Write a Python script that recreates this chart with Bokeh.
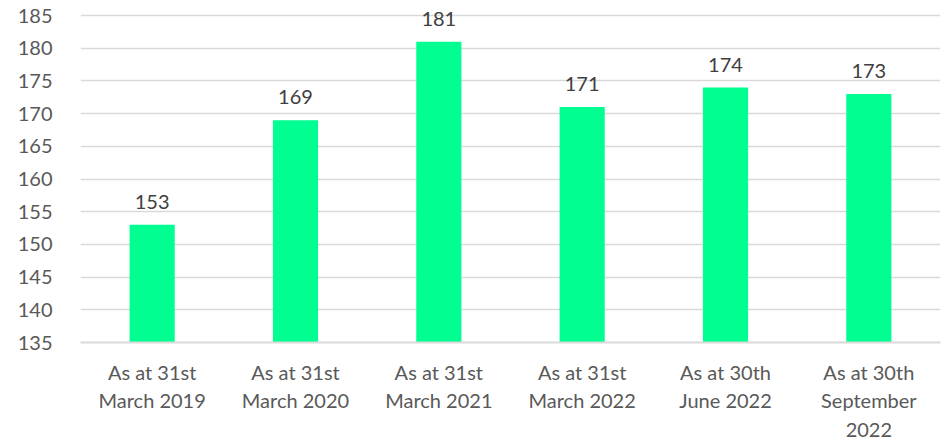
from bokeh.plotting import figure
from bokeh.models import ColumnDataSource, LabelSet, Range1d, FixedTicker
from bokeh.core.properties import value
from bokeh.embed import file_html
from bokeh.resources import INLINE

categories = ["As at 31st\nMarch 2019", "As at 31st\nMarch 2020", "As at 31st\nMarch 2021",
              "As at 31st\nMarch 2022", "As at 30th\nJune 2022", "As at 30th\nSeptember\n2022"]
values = [153, 169, 181, 171, 174, 173]
y_ticks = [135, 140, 145, 150, 155, 160, 165, 170, 175, 180, 185]

FONT = "Lato"

src = ColumnDataSource(dict(cat=categories, val=values, txt=[str(v) for v in values]))

p = figure(x_range=categories, y_range=Range1d(135, 187), width=946, height=444,
           output_backend="svg", toolbar_location=None,
           min_border_left=80, min_border_right=6, min_border_top=2, min_border_bottom=101)
p.outline_line_color = None

p.vbar(x="cat", top="val", bottom=135, width=0.315, source=src, color="#00FF90", line_color=None)

labels = LabelSet(x="cat", y="val", text="txt", source=src, text_align="center",
                  text_baseline="bottom", y_offset=16, text_font_size="20px",
                  text_color="#404040", text_font=value(FONT))
p.add_layout(labels)

p.yaxis.ticker = FixedTicker(ticks=y_ticks)
p.yaxis.axis_line_color = None
p.yaxis.major_tick_line_color = None
p.yaxis.minor_tick_line_color = None
p.yaxis.major_label_text_font = FONT
p.yaxis.major_label_text_font_size = "20px"
p.yaxis.major_label_text_color = "#595959"
p.yaxis.major_label_standoff = 22

p.xaxis.axis_line_color = "#D9D9D9"
p.xaxis.axis_line_width = 2
p.xaxis.major_tick_line_color = None
p.xaxis.minor_tick_line_color = None
p.xaxis.major_label_text_font = FONT
p.xaxis.major_label_text_font_size = "20px"
p.xaxis.major_label_text_color = "#595959"
p.xaxis.major_label_standoff = 11

p.xgrid.grid_line_color = None
p.ygrid.grid_line_color = "#D9D9D9"
p.ygrid.grid_line_width = 1.5

open("out.html", "w").write(file_html(p, INLINE))
